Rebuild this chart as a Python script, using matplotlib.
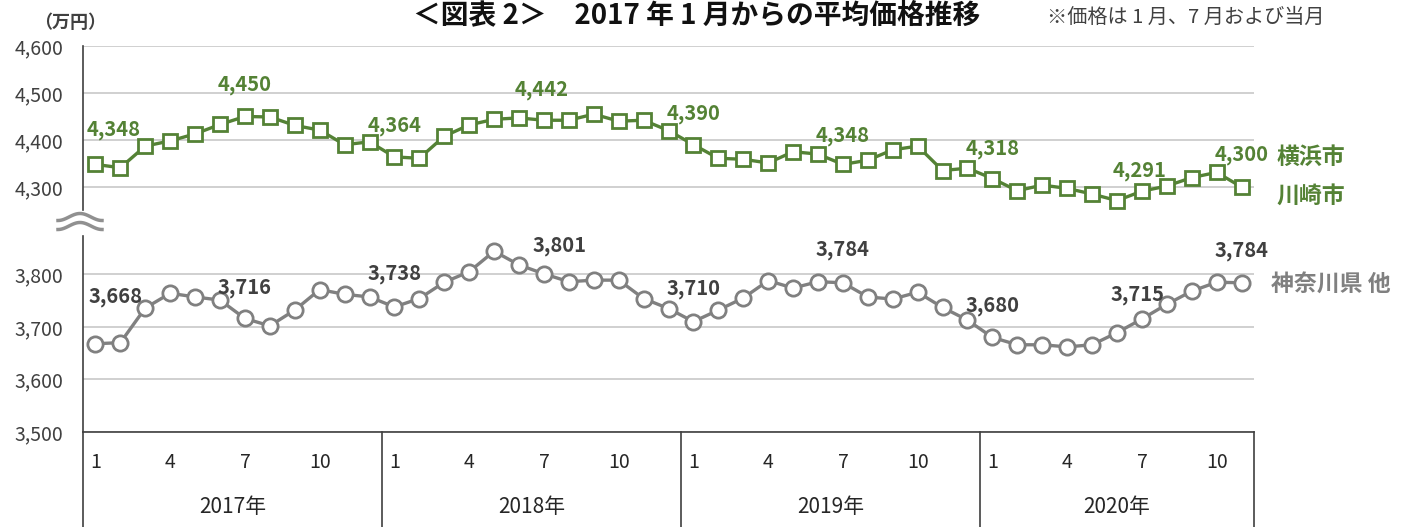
import matplotlib
matplotlib.use("Agg")
import matplotlib.pyplot as plt
import matplotlib.transforms as mtransforms
import numpy as np

plt.rcParams['font.family'] = ['Noto Sans CJK JP', 'DejaVu Sans']

# data: Jan 2017 - Nov 2020 (monthly, 万円)
months = list(range(1, 13)) * 3 + list(range(1, 12))
years = ["2017年", "2018年", "2019年", "2020年"]
yokohama_kawasaki = [4348, 4341, 4387, 4398, 4413, 4433, 4450, 4449, 4431, 4421, 4390, 4396,
                     4364, 4361, 4408, 4432, 4444, 4447, 4442, 4442, 4455, 4440, 4442, 4420,
                     4390, 4361, 4359, 4351, 4375, 4370, 4348, 4357, 4379, 4387, 4335, 4340,
                     4318, 4292, 4304, 4297, 4285, 4271, 4291, 4302, 4320, 4331, 4300]
kanagawa_other = [3668, 3670, 3736, 3764, 3757, 3751, 3716, 3702, 3732, 3771, 3762, 3757,
                  3738, 3754, 3785, 3805, 3844, 3818, 3801, 3786, 3789, 3789, 3754, 3735,
                  3710, 3732, 3755, 3788, 3774, 3786, 3784, 3757, 3753, 3766, 3737, 3713,
                  3680, 3666, 3666, 3662, 3666, 3689, 3715, 3743, 3768, 3785, 3784]
label_idx = [0, 6, 12, 18, 24, 30, 36, 42, 46]

# label offsets in pixels (layout only)
green_off = [(18, 35), (0, 32), (0, 31), (-2, 31), (0, 31), (0, 29), (0, 30), (-2, 21), (0, 32)]
gray_off = [(20, 47), (0, 31), (0, 33), (16, 28), (0, 33), (0, 33), (0, 32), (-4, 25), (0, 32)]

GREEN = "#548235"
GRAY = "#808080"
DARK = "#404040"
W, H = 1407, 527

fig = plt.figure(figsize=(W / 100, H / 100), dpi=100)


def box(x0, y0, x1, y1):
    return [x0 / W, 1 - y1 / H, (x1 - x0) / W, (y1 - y0) / H]


ax_top = fig.add_axes(box(83, 46, 1254, 210))
ax_bot = fig.add_axes(box(83, 236, 1254, 432))
x = np.arange(len(months))

for ax in (ax_top, ax_bot):
    ax.set_xlim(-0.5, len(months) - 0.5)
    for s in ("top", "right"):
        ax.spines[s].set_visible(False)
    ax.spines["left"].set_color(DARK)
    ax.spines["left"].set_linewidth(1.2)
    ax.yaxis.grid(True, color="#c8c8c8", lw=1.2)
    ax.set_axisbelow(True)
    ax.tick_params(axis="y", length=0, pad=14, labelsize=14, labelcolor=DARK)
    ax.yaxis.set_major_formatter(matplotlib.ticker.FuncFormatter(lambda v, p: f"{int(v):,}"))
    ax.set_xticks([])

ax_top.spines["bottom"].set_visible(False)
ax_top.set_ylim(4251, 4600)
ax_top.set_yticks([4300, 4400, 4500, 4600])
ax_bot.set_ylim(3500, 3873)
ax_bot.set_yticks([3500, 3600, 3700, 3800])
ax_bot.spines["bottom"].set_color(DARK)
ax_bot.spines["bottom"].set_linewidth(1.2)

ax_top.plot(x, yokohama_kawasaki, color=GREEN, lw=2.4, marker="s", ms=9.5,
            mfc="white", mec=GREEN, mew=2, clip_on=False, zorder=3)
ax_bot.plot(x, kanagawa_other, color=GRAY, lw=2.4, marker="o", ms=11,
            mfc="white", mec=GRAY, mew=2, clip_on=False, zorder=3)

for i, (dx, dy) in zip(label_idx, green_off):
    ax_top.annotate(f"{yokohama_kawasaki[i]:,}", (i, yokohama_kawasaki[i]), xytext=(dx, dy),
                    textcoords="offset pixels", ha="center", va="center",
                    fontsize=14.5, fontweight="bold", color=GREEN, annotation_clip=False)
for i, (dx, dy) in zip(label_idx, gray_off):
    ax_bot.annotate(f"{kanagawa_other[i]:,}", (i, kanagawa_other[i]), xytext=(dx, dy),
                    textcoords="offset pixels", ha="center", va="center",
                    fontsize=14.5, fontweight="bold", color=DARK, annotation_clip=False)

# category axis: months + years with dividers
trans = mtransforms.blended_transform_factory(ax_bot.transData, ax_bot.transAxes)
ax_h = 432 - 236
for b in [-0.5, 11.5, 23.5, 35.5, len(months) - 0.5]:
    ax_bot.plot([b, b], [0, -95 / ax_h], transform=trans, color=DARK, lw=1.2, clip_on=False)
for i, m in enumerate(months):
    if m in (1, 4, 7, 10):
        ax_bot.text(i, -31 / ax_h, str(m), transform=trans, ha="center", va="center",
                    fontsize=14, color="#262626")
for k, yr in enumerate(years):
    start = k * 12 - 0.5
    end = min(start + 12, len(months) - 0.5)
    ax_bot.text((start + end) / 2, -75 / ax_h, yr, transform=trans, ha="center", va="center",
                fontsize=15, color="#262626")

# axis break mark
t = np.linspace(0, 1, 60)
xs = (58 + 44 * t) / W
for y0 in (217, 226):
    ys = 1 - (y0 - 3.5 * np.sin(2 * np.pi * (t - 0.25))) / H
    fig.add_artist(plt.Line2D(xs, ys, color="#909090", lw=2.5))

fig.text(70 / W, 1 - 22 / H, "（万円）", ha="center", va="center", fontsize=13,
         fontweight="bold", color=DARK)
fig.text(697 / W, 1 - 15 / H, "＜図表 2＞　2017 年 1 月からの平均価格推移", ha="center",
         va="center", fontsize=20, fontweight="bold", color="#111111")
fig.text(1186 / W, 1 - 17 / H, "※価格は 1 月、7 月および当月", ha="center", va="center",
         fontsize=14.5, color=DARK)
fig.text(1311 / W, 1 - 157 / H, "横浜市", ha="center", va="center", fontsize=16.5,
         fontweight="bold", color=GREEN)
fig.text(1311 / W, 1 - 196 / H, "川崎市", ha="center", va="center", fontsize=16.5,
         fontweight="bold", color=GREEN)
fig.text(1331 / W, 1 - 284 / H, "神奈川県 他", ha="center", va="center", fontsize=16.5,
         fontweight="bold", color=GRAY)

fig.savefig("out.png", dpi=100)
